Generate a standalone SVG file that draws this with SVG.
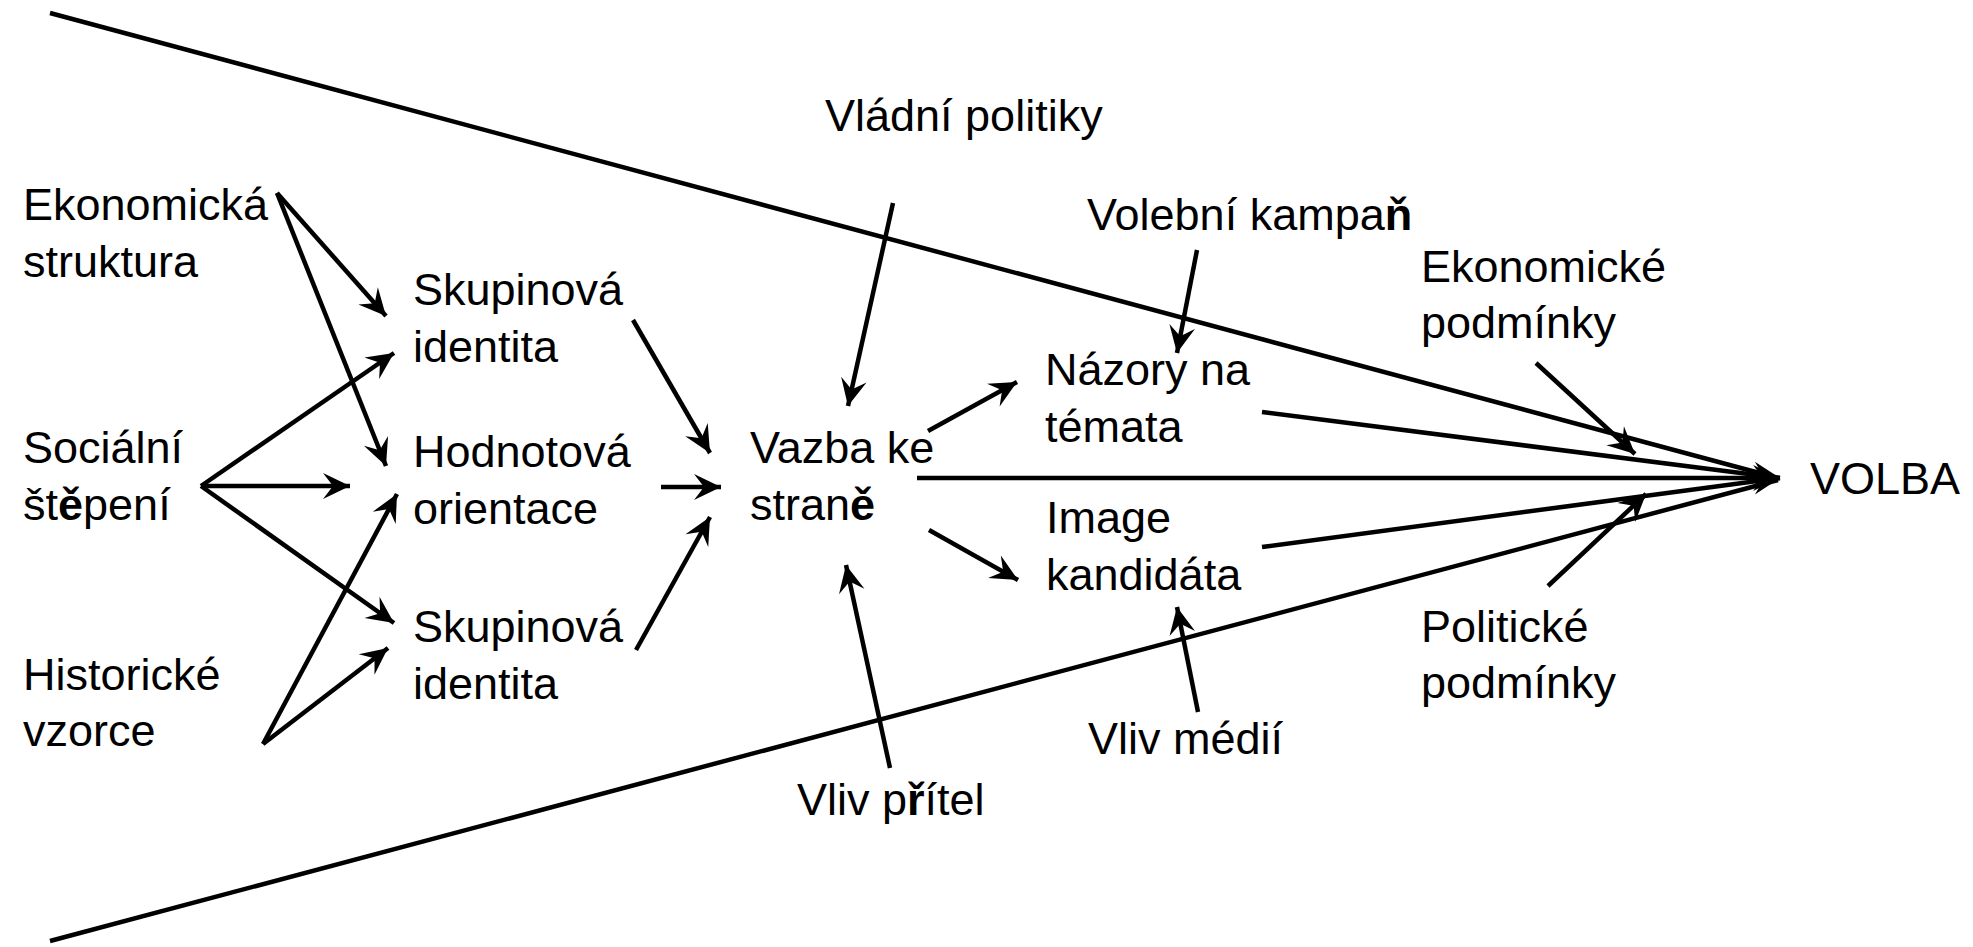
<svg xmlns="http://www.w3.org/2000/svg" width="1973" height="947" viewBox="0 0 1973 947">
<style>
text{font-family:"Liberation Sans",Arial,sans-serif;font-size:45px;fill:#000}
.b{font-weight:bold}
.c line{stroke:#000;stroke-width:4.5;fill:none}
.a{marker-end:url(#ah)}
</style>
<defs>
<marker id="ah" viewBox="-28 -14 29 28" refX="0" refY="0" markerWidth="29" markerHeight="28" markerUnits="userSpaceOnUse" orient="auto">
<path d="M0,0 L-27,-13 L-17,0 L-27,13 Z" fill="#000"/>
</marker>
</defs>
<rect width="1973" height="947" fill="#fff"/>
<g id="connectors" class="c">
<line x1="50" y1="13" x2="1778" y2="478"/>
<line x1="50" y1="941" x2="1778" y2="480"/>
<line class="a" x1="277" y1="193" x2="386" y2="316"/>
<line class="a" x1="277" y1="193" x2="386" y2="466"/>
<line class="a" x1="201" y1="486" x2="394" y2="353"/>
<line class="a" x1="201" y1="486" x2="350" y2="486"/>
<line class="a" x1="201" y1="486" x2="394" y2="623"/>
<line class="a" x1="263" y1="744" x2="397" y2="494"/>
<line class="a" x1="263" y1="744" x2="388" y2="648"/>
<line class="a" x1="633" y1="320" x2="710" y2="453"/>
<line class="a" x1="661" y1="487" x2="721" y2="487"/>
<line class="a" x1="636" y1="650" x2="710" y2="517"/>
<line class="a" x1="893" y1="203" x2="848" y2="406"/>
<line class="a" x1="890" y1="768" x2="846" y2="565"/>
<line class="a" x1="928" y1="431" x2="1017" y2="382"/>
<line class="a" x1="929" y1="530" x2="1018" y2="580"/>
<line class="a" x1="1197" y1="250" x2="1177" y2="353"/>
<line class="a" x1="1198" y1="712" x2="1177" y2="607"/>
<line class="a" x1="917" y1="478" x2="1780" y2="478"/>
<line class="a" x1="1262" y1="412" x2="1780" y2="478"/>
<line class="a" x1="1262" y1="547" x2="1780" y2="478"/>
<line class="a" x1="1536" y1="363" x2="1635" y2="454"/>
<line class="a" x1="1548" y1="586" x2="1646" y2="494"/>
</g>
<g id="ekonomicka-struktura"><text x="23" y="220">Ekonomická</text><text x="23" y="277">struktura</text></g>
<g id="socialni-stepeni"><text x="23" y="463">Sociální</text><text x="23" y="520">št<tspan class="b">ě</tspan>pení</text></g>
<g id="historicke-vzorce"><text x="23" y="690">Historické</text><text x="23" y="746">vzorce</text></g>
<g id="skupinova-identita-1"><text x="413" y="305">Skupinová</text><text x="413" y="362">identita</text></g>
<g id="hodnotova-orientace"><text x="413" y="467">Hodnotová</text><text x="413" y="524">orientace</text></g>
<g id="skupinova-identita-2"><text x="413" y="642">Skupinová</text><text x="413" y="699">identita</text></g>
<g id="vladni-politiky"><text x="825" y="131">Vládní politiky</text></g>
<g id="vazba-ke-strane"><text x="750" y="463">Vazba ke</text><text x="750" y="520">stran<tspan class="b">ě</tspan></text></g>
<g id="vliv-pritel"><text x="797" y="815">Vliv p<tspan class="b">ř</tspan>ítel</text></g>
<g id="volebni-kampan"><text x="1087" y="230">Volební kampa<tspan class="b">ň</tspan></text></g>
<g id="nazory-na-temata"><text x="1045" y="385">Názory na</text><text x="1045" y="442">témata</text></g>
<g id="image-kandidata"><text x="1046" y="533">Image</text><text x="1046" y="590">kandidáta</text></g>
<g id="vliv-medii"><text x="1088" y="754">Vliv médií</text></g>
<g id="ekonomicke-podminky"><text x="1421" y="282">Ekonomické</text><text x="1421" y="338">podmínky</text></g>
<g id="politicke-podminky"><text x="1421" y="642">Politické</text><text x="1421" y="698">podmínky</text></g>
<g id="volba"><text x="1810" y="494">VOLBA</text></g>
</svg>
